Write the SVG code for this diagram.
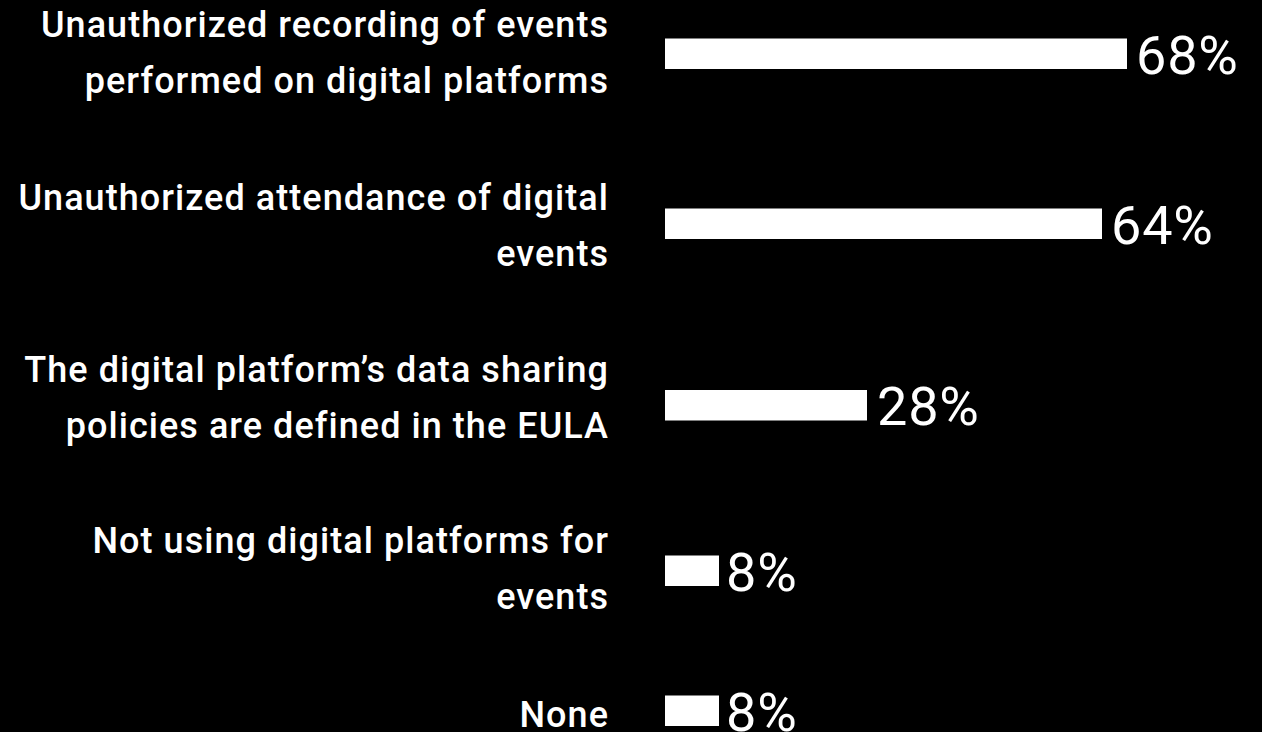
<svg xmlns="http://www.w3.org/2000/svg" width="1262" height="732" viewBox="0 0 1262 732">
<style>
.lbl{font-family:Roboto,"Liberation Sans",sans-serif;font-weight:500;font-size:36px;letter-spacing:1.05px;fill:#fff;text-anchor:end}
.pct{font-family:Roboto,"Liberation Sans",sans-serif;font-weight:400;font-size:54px;letter-spacing:0.8px;fill:#fff}
.bar{fill:#fff}
</style>
<rect width="1262" height="732" fill="#000"/>
<g id="row1">
<text class="lbl" x="609" y="37">Unauthorized recording of events</text>
<text class="lbl" x="609" y="93">performed on digital platforms</text>
<rect class="bar" x="665" y="38.5" width="462" height="30.5"/>
<text class="pct" x="1136" y="74">68%</text>
</g>
<g id="row2">
<text class="lbl" x="609" y="210">Unauthorized attendance of digital</text>
<text class="lbl" x="609" y="266">events</text>
<rect class="bar" x="665" y="208.5" width="437" height="30.5"/>
<text class="pct" x="1111" y="244">64%</text>
</g>
<g id="row3">
<text class="lbl" x="609" y="382">The digital platform’s data sharing</text>
<text class="lbl" x="609" y="438">policies are defined in the EULA</text>
<rect class="bar" x="665" y="390" width="202" height="30.5"/>
<text class="pct" x="877" y="425">28%</text>
</g>
<g id="row4">
<text class="lbl" x="609" y="553">Not using digital platforms for</text>
<text class="lbl" x="609" y="609">events</text>
<rect class="bar" x="665" y="555.5" width="54" height="30.5"/>
<text class="pct" x="726" y="591">8%</text>
</g>
<g id="row5">
<text class="lbl" x="609" y="727">None</text>
<rect class="bar" x="665" y="695.5" width="54" height="30.5"/>
<text class="pct" x="726" y="731">8%</text>
</g>
<g id="connectors"/>
</svg>
